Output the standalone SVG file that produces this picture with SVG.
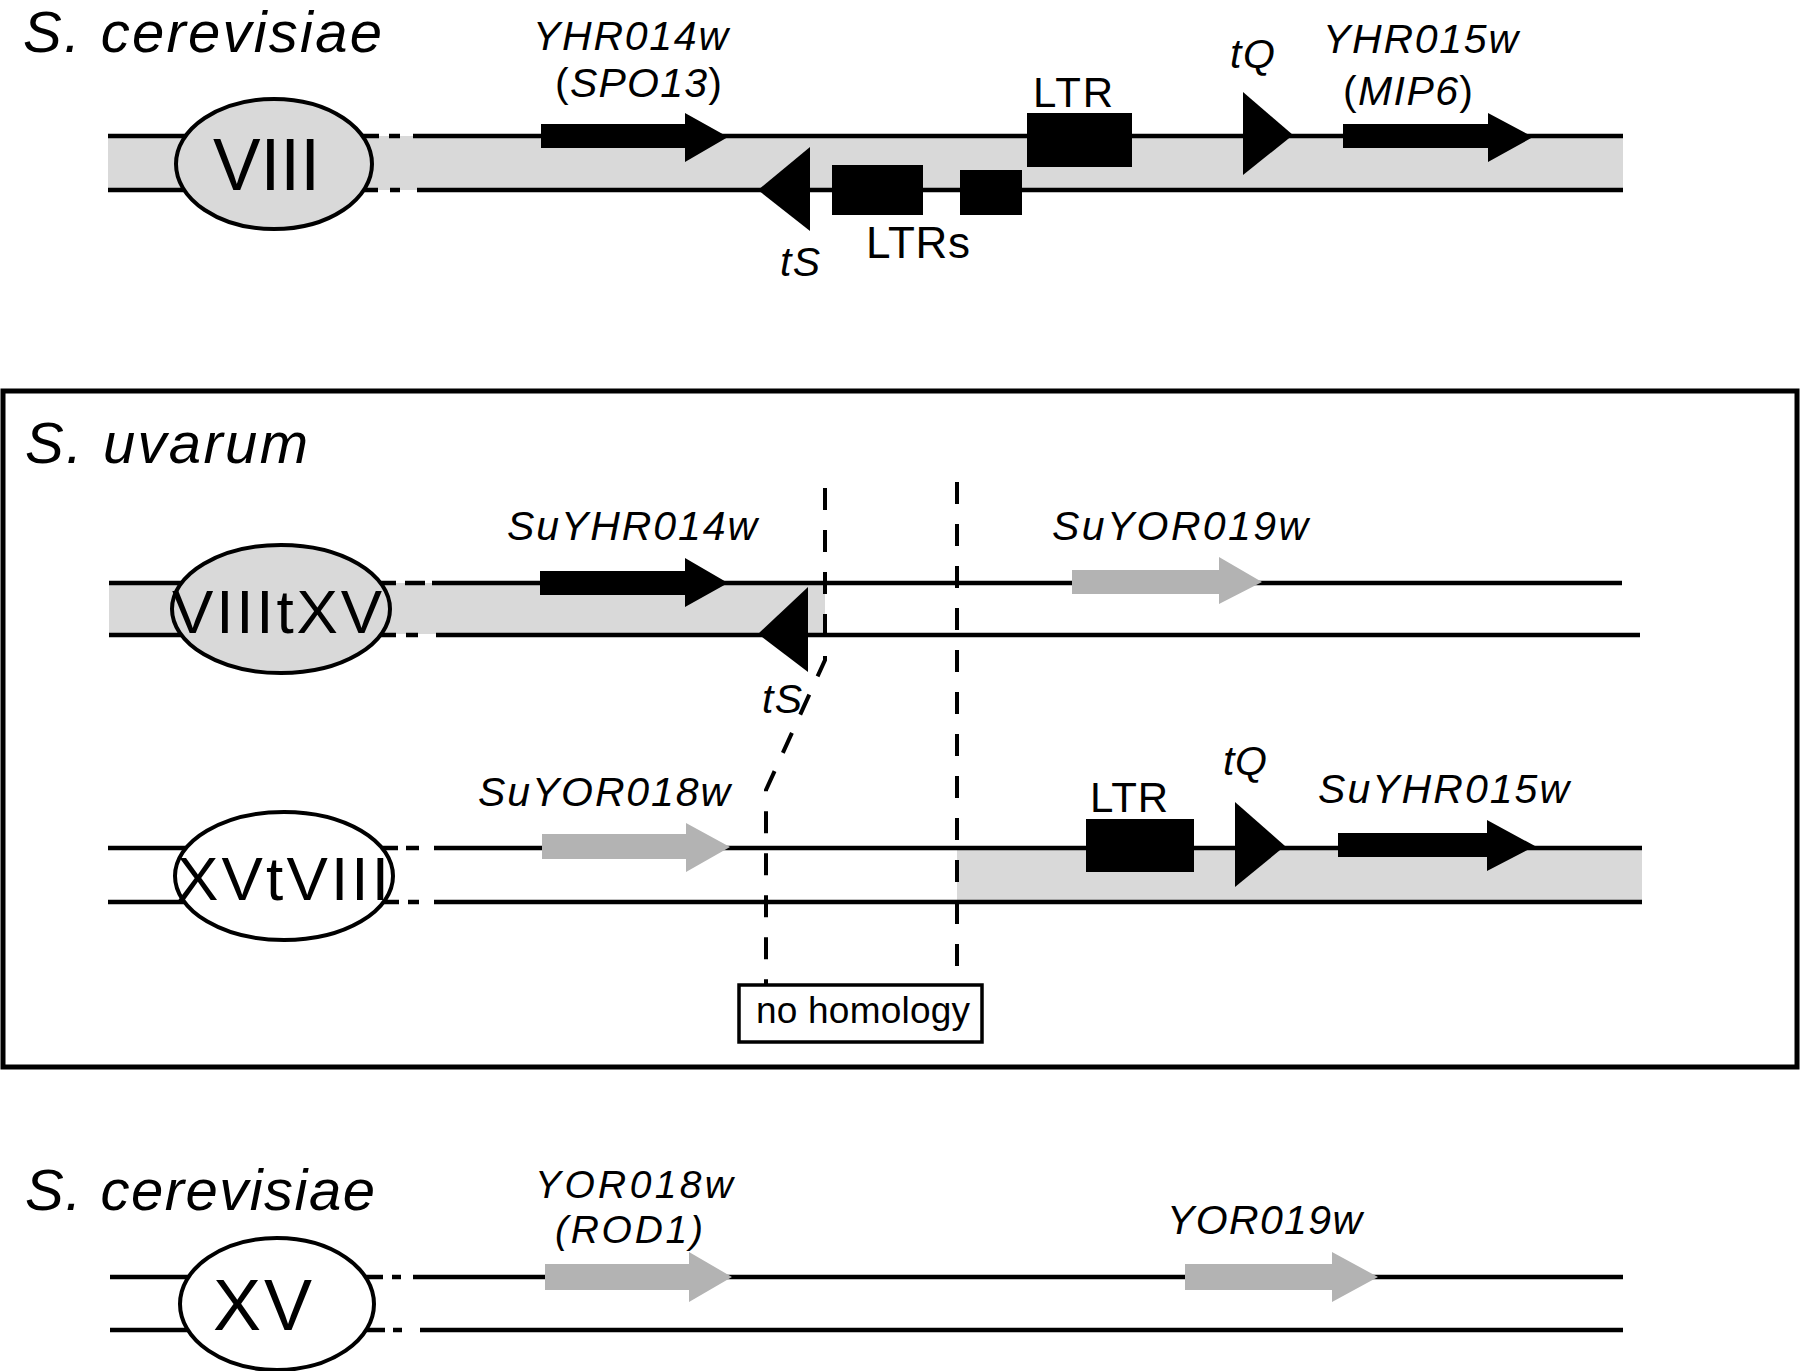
<svg xmlns="http://www.w3.org/2000/svg" width="1800" height="1371" viewBox="0 0 1800 1371">
<style>
  text { font-family: "Liberation Sans", Arial, Helvetica, sans-serif; fill: #000; }
  .sp { font-size: 58px; font-style: italic; }
  .gene { font-size: 41px; font-style: italic; }
  .up { font-style: normal; }
  .ltr { font-size: 42px; }
  .chrname { font-size: 74px; }
  .chrname2 { font-size: 62px; }
  .line { stroke: #000; stroke-width: 4.5; fill: none; }
  .band { fill: #d9d9d9; }
  .ell { stroke: #000; stroke-width: 4; }
  .black { fill: #000; }
  .grey { fill: #b3b3b3; }
  .dash { stroke: #000; stroke-width: 4; fill: none; stroke-dasharray: 22 20; }
</style>
<rect width="1800" height="1371" fill="#fff"/>

<!-- Section 1: S. cerevisiae VIII -->
<g id="section1">
  <text class="sp" x="23" y="52" textLength="359" lengthAdjust="spacing">S. cerevisiae</text>
  <rect class="band" x="108" y="136" width="1515" height="54"/>
  <g id="chr8-lines">
    <line class="line" x1="108" y1="136" x2="379" y2="136"/>
    <line class="line" x1="389" y1="136" x2="400" y2="136"/>
    <line class="line" x1="413" y1="136" x2="1623" y2="136"/>
    <line class="line" x1="108" y1="190" x2="378" y2="190"/>
    <line class="line" x1="390" y1="190" x2="400" y2="190"/>
    <line class="line" x1="417" y1="190" x2="1623" y2="190"/>
  </g>
  <g id="chrVIII">
    <ellipse class="ell" cx="274" cy="164" rx="98" ry="65" fill="#d9d9d9"/>
    <text class="chrname" x="213" y="190" textLength="107" lengthAdjust="spacingAndGlyphs">VIII</text>
  </g>
  <g id="YHR014w">
    <polygon class="black" points="541,124 685,124 685,113 728,137 685,162 685,148 541,148"/>
    <text class="gene" x="533" y="50" textLength="195" lengthAdjust="spacing">YHR014w</text>
    <text class="gene" x="555" y="97" textLength="167" lengthAdjust="spacing"><tspan class="up">(</tspan>SPO13<tspan class="up">)</tspan></text>
  </g>
  <g id="tS-1">
    <polygon class="black" points="758,190 810,147 810,231"/>
    <text class="gene" x="780" y="276" textLength="40" lengthAdjust="spacing">tS</text>
  </g>
  <g id="LTRs-1">
    <rect class="black" x="832" y="165" width="91" height="50"/>
    <rect class="black" x="960" y="170" width="62" height="45"/>
    <text class="ltr" x="866" y="258" textLength="104" lengthAdjust="spacing" style="font-size:44px">LTRs</text>
  </g>
  <g id="LTR-1">
    <rect class="black" x="1027" y="113" width="105" height="54"/>
    <text class="ltr" x="1033" y="107" textLength="80" lengthAdjust="spacing">LTR</text>
  </g>
  <g id="tQ-1">
    <polygon class="black" points="1243,92 1243,175 1293,135"/>
    <text class="gene" x="1230" y="68" textLength="45" lengthAdjust="spacing">tQ</text>
  </g>
  <g id="YHR015w">
    <polygon class="black" points="1343,124 1488,124 1488,113 1533,137 1488,162 1488,148 1343,148"/>
    <text class="gene" x="1323" y="53" textLength="195" lengthAdjust="spacing">YHR015w</text>
    <text class="gene" x="1343" y="105" textLength="130" lengthAdjust="spacing"><tspan class="up">(</tspan>MIP6<tspan class="up">)</tspan></text>
  </g>
</g>

<!-- Section 2: S. uvarum -->
<g id="section2">
  <rect x="3" y="391" width="1794" height="676" fill="none" stroke="#000" stroke-width="5"/>
  <text class="sp" x="25" y="463" textLength="283" lengthAdjust="spacing">S. uvarum</text>

  <!-- upper chromosome VIIItXV -->
  <rect class="band" x="109" y="583" width="716" height="51"/>
  <g id="chrVIIItXV-lines">
    <line class="line" x1="109" y1="583" x2="396" y2="583"/>
    <line class="line" x1="405" y1="583" x2="425" y2="583"/>
    <line class="line" x1="432" y1="583" x2="1622" y2="583"/>
    <line class="line" x1="109" y1="635" x2="396" y2="635"/>
    <line class="line" x1="406" y1="635" x2="418" y2="635"/>
    <line class="line" x1="436" y1="635" x2="1640" y2="635"/>
  </g>
  <g id="chrVIIItXV">
    <ellipse class="ell" cx="281" cy="609" rx="109" ry="64" fill="#d9d9d9"/>
    <text class="chrname2" x="172" y="633" textLength="210" lengthAdjust="spacing">VIIItXV</text>
  </g>
  <g id="SuYHR014w">
    <polygon class="black" points="540,571 685,571 685,558 728,583 685,607 685,595 540,595"/>
    <text class="gene" x="507" y="540" textLength="250" lengthAdjust="spacing">SuYHR014w</text>
  </g>
  <g id="tS-2">
    <polygon class="black" points="758,634 808,587 808,672"/>
    <text class="gene" x="762" y="713" textLength="40" lengthAdjust="spacing">tS</text>
  </g>
  <g id="SuYOR019w">
    <polygon class="grey" points="1072,570 1219,570 1219,557 1262,582 1219,604 1219,594 1072,594"/>
    <text class="gene" x="1052" y="540" textLength="256" lengthAdjust="spacing">SuYOR019w</text>
  </g>

  <!-- lower chromosome XVtVIII -->
  <rect class="band" x="957" y="848" width="685" height="54"/>
  <g id="chrXVtVIII-lines">
    <line class="line" x1="108" y1="848" x2="398" y2="848"/>
    <line class="line" x1="406" y1="848" x2="419" y2="848"/>
    <line class="line" x1="434" y1="848" x2="1642" y2="848"/>
    <line class="line" x1="108" y1="902" x2="399" y2="902"/>
    <line class="line" x1="408" y1="902" x2="419" y2="902"/>
    <line class="line" x1="434" y1="902" x2="1642" y2="902"/>
  </g>
  <g id="chrXVtVIII">
    <ellipse class="ell" cx="284" cy="876" rx="109" ry="64" fill="#fff"/>
    <text class="chrname2" x="177" y="900" textLength="212" lengthAdjust="spacing">XVtVIII</text>
  </g>
  <g id="SuYOR018w">
    <polygon class="grey" points="542,834 686,834 686,823 730,847 686,872 686,859 542,859"/>
    <text class="gene" x="478" y="806" textLength="252" lengthAdjust="spacing">SuYOR018w</text>
  </g>
  <g id="LTR-2">
    <rect class="black" x="1086" y="819" width="108" height="53"/>
    <text class="ltr" x="1090" y="812" textLength="78" lengthAdjust="spacing">LTR</text>
  </g>
  <g id="tQ-2">
    <polygon class="black" points="1235,802 1235,887 1285,846"/>
    <text class="gene" x="1223" y="775" textLength="44" lengthAdjust="spacing">tQ</text>
  </g>
  <g id="SuYHR015w">
    <polygon class="black" points="1338,833 1487,833 1487,820 1535,846 1487,871 1487,857 1338,857"/>
    <text class="gene" x="1318" y="803" textLength="251" lengthAdjust="spacing">SuYHR015w</text>
  </g>

  <g id="connectors">
    <polyline class="dash" points="825,488 825,660 766,790 766,985"/>
    <line class="dash" x1="957" y1="482" x2="957" y2="985"/>
  </g>
  <g id="no-homology">
    <rect x="739" y="985" width="243" height="57" fill="#fff" stroke="#000" stroke-width="3.5"/>
    <text x="756" y="1023" textLength="214" lengthAdjust="spacing" style="font-size:37px">no homology</text>
  </g>
</g>

<!-- Section 3: S. cerevisiae XV -->
<g id="section3">
  <text class="sp" x="25" y="1210" textLength="350" lengthAdjust="spacing">S. cerevisiae</text>
  <g id="chrXV-lines">
    <line class="line" x1="110" y1="1277" x2="383" y2="1277"/>
    <line class="line" x1="392" y1="1277" x2="401" y2="1277"/>
    <line class="line" x1="413" y1="1277" x2="1623" y2="1277"/>
    <line class="line" x1="110" y1="1330" x2="385" y2="1330"/>
    <line class="line" x1="393" y1="1330" x2="402" y2="1330"/>
    <line class="line" x1="420" y1="1330" x2="1623" y2="1330"/>
  </g>
  <g id="chrXV">
    <ellipse class="ell" cx="277" cy="1304" rx="97" ry="66" fill="#fff"/>
    <text class="chrname" x="213" y="1330" textLength="99" lengthAdjust="spacing" style="font-size:72px">XV</text>
  </g>
  <g id="YOR018w">
    <polygon class="grey" points="545,1264 689,1264 689,1252 732,1277 689,1302 689,1290 545,1290"/>
    <text class="gene" x="535" y="1198" textLength="198" lengthAdjust="spacing" style="font-size:39px">YOR018w</text>
    <text class="gene" x="555" y="1243" textLength="148" lengthAdjust="spacing" style="font-size:39px">(ROD1)</text>
  </g>
  <g id="YOR019w">
    <polygon class="grey" points="1185,1264 1332,1264 1332,1252 1378,1277 1332,1302 1332,1290 1185,1290"/>
    <text class="gene" x="1167" y="1234" textLength="195" lengthAdjust="spacing">YOR019w</text>
  </g>
</g>
</svg>
